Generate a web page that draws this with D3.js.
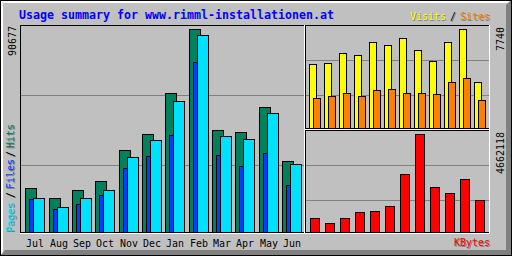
<!DOCTYPE html>
<html><head><meta charset="utf-8">
<script src="https://cdn.jsdelivr.net/npm/d3@7"></script>
<style>html,body{margin:0;padding:0;background:#c0c0c0;overflow:hidden}svg{display:block}</style>
</head><body><svg id="c" width="512" height="256"></svg>
<script>
const title = "Usage summary for www.rimml-installationen.at";
const months = ["Jul","Aug","Sep","Oct","Nov","Dec","Jan","Feb","Mar","Apr","May","Jun"];
const hits   = [19520, 15050, 18630, 22650, 36500, 43640, 61960, 90677, 45430, 44530, 55700, 31580];
const files  = [14740, 10140, 12510, 16530, 28460, 33820, 43200, 75800, 34260, 29350, 35160, 21000];
const pages  = [15050, 11030, 15050, 18630, 33370, 40960, 58380, 87860, 42750, 41410, 53020, 30240];
const visits = [4976, 5055, 5898, 5687, 6687, 6476, 7003, 6134, 5266, 6687, 7740, 3607];
const sites  = [2344, 2502, 2739, 2502, 2976, 3055, 2739, 2739, 2660, 3607, 3923, 2186];
const kbytes = [651700, 413900, 651700, 937200, 984700, 1236900, 2744900, 4662118, 2126500, 1841000, 2507000, 1508000];

const GREY = "#c0c0c0", DK = "#808080";
const C = {hits:"#00805c", files:"#0040ff", pages:"#00e0ff", visits:"#ffff00", sites:"#ff8000", kbytes:"#ff0000"};
const FONT = "'DejaVu Sans Mono', monospace";

const svg = d3.select("#c");
svg.append("rect").attr("width",512).attr("height",256).attr("fill",GREY);
// outer bevel
svg.append("rect").attr("x",1).attr("y",1).attr("width",509).attr("height",2).attr("fill","#fff");
svg.append("rect").attr("x",1).attr("y",1).attr("width",2).attr("height",253).attr("fill","#fff");
svg.append("path").attr("d","M511,0 L511,256 L0,256 L5,250 L506,250 L506,5 Z").attr("fill",DK);
svg.append("rect").attr("x",0.5).attr("y",0.5).attr("width",511).attr("height",255)
  .attr("fill","none").attr("stroke","#000").attr("shape-rendering","crispEdges");

const g = svg.append("g").attr("shape-rendering","crispEdges");

function hline(x0,x1,row,color){
  g.append("line").attr("x1",x0).attr("x2",x1+1).attr("y1",row+0.5).attr("y2",row+0.5).attr("stroke",color);
}
function vline(col,y0,y1,color){
  g.append("line").attr("x1",col+0.5).attr("x2",col+0.5).attr("y1",y0).attr("y2",y1+1).attr("stroke",color);
}
function panel(x0,y0,x1,y1,base,gridRows){
  gridRows.forEach(r => hline(x0+1,x1-1,r,DK));
  hline(x0,x1,y0,"#000");
  vline(x0,y0,y1,"#000");
  if (base!==null) hline(x0,x1-1,base,"#000");
  hline(x0,x1,y1,"#fff");
  vline(x1,y0,y1,"#fff");
}
// grid rows at thirds of each panel
const gMain = d3.scaleLinear().domain([0,3]).range([235,25]);
const gTop  = d3.scaleLinear().domain([0,3]).range([130,25]);
const gBot  = d3.scaleLinear().domain([0,3]).range([235,130]);
panel(20,25,304,233,232,[1,2].map(d=>Math.round(gMain(d))));
panel(305,25,489,129,128,[1,2].map(d=>Math.round(gTop(d))));
panel(305,130,489,233,232,[1,2].map(d=>Math.round(gBot(d))));

// scales
const xMain = d3.scaleBand().domain(months).range([25,305]);
const xRight = d3.scaleBand().domain(months).range([309,489]);
const col = (s,m) => Math.ceil(s(m)-1e-6);
const yMain = d3.scaleLinear().domain([0,d3.max(hits)]).range([232,29]);
const yVis  = d3.scaleLinear().domain([0,d3.max(visits)]).range([128,29]);
const yKb   = d3.scaleLinear().domain([0,d3.max(kbytes)]).range([232,134]);

function bars(data, xs, off, w, ys, base, color){
  g.append("g").selectAll("rect").data(data).join("rect")
    .attr("x",(d,i)=>col(xs,months[i])+off+0.5)
    .attr("y",d=>Math.round(ys(d))+0.5)
    .attr("width",w-1)
    .attr("height",d=>base-Math.round(ys(d)))
    .attr("fill",color).attr("stroke","#000");
}
bars(hits, xMain, 0, 12, yMain, 232, C.hits);
bars(files, xMain, 4, 12, yMain, 232, C.files);
bars(pages, xMain, 8, 12, yMain, 232, C.pages);
bars(visits, xRight, 0, 8, yVis, 128, C.visits);
bars(sites, xRight, 4, 8, yVis, 128, C.sites);
bars(kbytes, xRight, 1, 10, yKb, 232, C.kbytes);

// text helpers
const T = svg.append("g").attr("font-family",FONT).attr("font-size",11);
function text(s,x,y,color,shadow,rot){
  const draw = (dx,dy,c) => {
    const t = T.append("text").text(s).attr("fill",c)
      .attr("textLength",s.length*6).attr("lengthAdjust","spacingAndGlyphs");
    if (rot) t.attr("transform",`translate(${x+dx},${y+dy}) rotate(-90)`);
    else t.attr("x",x+dx).attr("y",y+dy);
    return t;
  };
  if (shadow) draw(1,1,DK);
  return draw(0,0,color);
}
// title
T.append("text").text(title).attr("x",19).attr("y",19).attr("fill","#0000ff")
  .attr("font-size",11.5).attr("font-weight","bold")
  .attr("textLength",title.length*7).attr("lengthAdjust","spacingAndGlyphs");
// legends
text("Visits",410,20,C.visits,true);
text("/",450,20,"#000",true);
text("Sites",460,20,C.sites,true);
text("KBytes",454,246,C.kbytes,true);
text("Pages",14,232,C.pages,true,true);
text("/",14,198,"#000",true,true);
text("Files",14,189,C.files,true,true);
text("/",14,157,"#000",true,true);
text("Hits",14,148,C.hits,true,true);
// month labels
months.forEach(m => text(m, col(xMain,m)+1, 247, "#000", false));
// max labels
const mH = String(d3.max(hits)), mV = String(d3.max(visits)), mK = String(d3.max(kbytes));
text(mH,16,26+mH.length*6,"#000",false,true);
text(mV,504,27+mV.length*6,"#000",false,true);
text(mK,504,132+mK.length*6,"#000",false,true);
</script></body></html>
